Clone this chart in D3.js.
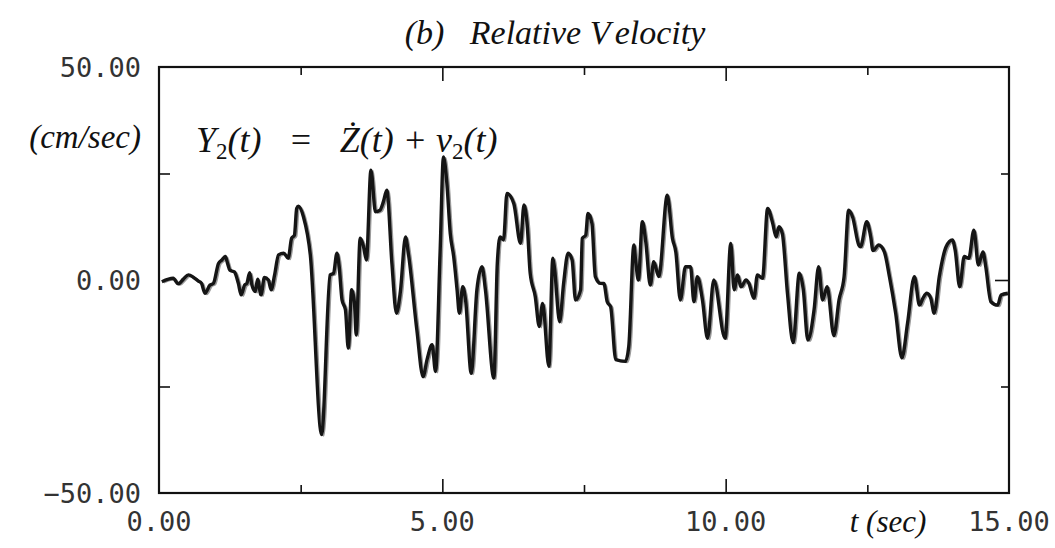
<!DOCTYPE html>
<html>
<head>
<meta charset="utf-8">
<script src="https://cdn.jsdelivr.net/npm/d3@7"></script>
<style>
  body { margin: 0; background: #fff; }
  .num { font-family: "DejaVu Sans Mono", monospace; font-size: 27px; fill: #333; }
  .mth { font-family: "Liberation Serif", "DejaVu Serif", serif; font-style: italic; fill: #111; white-space: pre; }
</style>
</head>
<body>
<div id="chart"></div>
<script>
const width = 1055, height = 548;

// time (sec) of the traced points
const times = [
  0.05, 0.25, 0.34, 0.43, 0.52, 0.61, 0.69, 0.75, 0.81, 0.90, 0.96, 1.05, 1.11, 1.17, 1.21, 1.25,
  1.33, 1.40, 1.45, 1.51, 1.55, 1.60, 1.64, 1.70, 1.74, 1.80, 1.86, 1.93, 1.98, 2.04, 2.11, 2.20,
  2.28, 2.34, 2.39, 2.43, 2.46, 2.55, 2.67, 2.87, 3.02, 3.08, 3.14, 3.18, 3.23, 3.29, 3.34, 3.40,
  3.45, 3.48, 3.55, 3.61, 3.66, 3.74, 3.82, 3.90, 3.96, 4.02, 4.11, 4.19, 4.26, 4.35, 4.40, 4.55,
  4.66, 4.73, 4.82, 4.88, 4.96, 5.02, 5.08, 5.14, 5.20, 5.26, 5.30, 5.36, 5.41, 5.51, 5.61, 5.70,
  5.76, 5.91, 5.97, 6.02, 6.08, 6.14, 6.26, 6.38, 6.44, 6.50, 6.55, 6.64, 6.71, 6.77, 6.88, 6.95,
  6.98, 7.07, 7.14, 7.22, 7.29, 7.35, 7.44, 7.47, 7.53, 7.57, 7.64, 7.70, 7.79, 7.85, 7.91, 7.97,
  8.06, 8.23, 8.29, 8.38, 8.41, 8.46, 8.53, 8.59, 8.67, 8.73, 8.82, 8.97, 9.06, 9.12, 9.20, 9.29,
  9.38, 9.44, 9.50, 9.59, 9.68, 9.79, 9.99, 10.09, 10.15, 10.21, 10.27, 10.36, 10.41, 10.50, 10.56, 10.65,
  10.74, 10.83, 10.89, 10.94, 11.00, 11.09, 11.19, 11.30, 11.37, 11.45, 11.56, 11.64, 11.71, 11.79, 11.91, 12.00,
  12.09, 12.17, 12.24, 12.35, 12.38, 12.49, 12.56, 12.60, 12.70, 12.80, 12.89, 13.00, 13.11, 13.21, 13.33, 13.42,
  13.48, 13.55, 13.62, 13.68, 13.77, 13.89, 14.00, 14.05, 14.13, 14.21, 14.29, 14.38, 14.46, 14.54, 14.59, 14.68,
  14.80, 14.86, 14.98
];

// relative velocity Y2(t) (cm/sec)
const velocity = [
  -0.4, 0.4, -0.9, 0.2, 1.2, 0.6, -0.2, -0.8, -3.1, -1.2, -0.8, 3.9, 4.7, 5.5, 3.9, 2.3,
  1.9, -0.8, -3.5, -1.2, -0.8, 1.7, -1.2, -2.7, 0.2, -3.5, 0.6, 0.0, -2.3, 1.2, 5.9, 6.3,
  5.1, 9.8, 10.5, 16.8, 17.3, 14.8, 5.9, -36.3, 1.2, 1.6, 6.3, 3.1, -4.7, -7.0, -16.0, -2.3,
  -5.5, -12.9, 9.8, 7.8, 4.7, 25.8, 16.0, 16.4, 18.4, 21.1, 3.9, -7.8, -2.7, 10.1, 6.3, -11.7,
  -22.7, -18.7, -15.2, -21.5, 6.3, 28.9, 22.7, 10.9, 5.5, -2.3, -7.8, -1.6, -4.7, -21.9, -2.3, 3.1,
  -2.3, -23.0, 3.9, 10.1, 9.4, 20.3, 18.0, 8.6, 17.6, 12.5, 1.6, -3.9, -10.9, -5.5, -20.3, 5.1,
  2.7, -9.8, -0.8, 6.3, 4.7, -4.7, -2.3, 9.8, 10.5, 15.6, 13.3, 0.8, -0.8, -0.8, -5.1, -6.3,
  -18.7, -19.1, -15.6, 8.2, 4.7, 0.0, 13.7, 9.0, -1.2, 4.3, 0.8, 19.9, 9.8, 6.6, -4.7, 3.1,
  3.1, -5.1, 0.8, -4.7, -13.7, 0.0, -13.7, 8.6, -2.3, 1.2, -1.6, 0.0, -0.8, -4.3, 1.2, 0.4,
  16.8, 13.3, 10.1, 12.5, 10.9, -3.1, -14.7, 1.6, -2.3, -14.1, -7.0, 3.1, -4.7, -1.6, -13.1, -4.7,
  0.8, 16.4, 14.8, 8.2, 7.8, 13.7, 10.1, 6.9, 8.2, 6.6, 0.8, -7.8, -18.3, -10.1, 0.8, -5.9,
  -4.3, -3.1, -4.3, -7.8, 0.8, 7.8, 9.4, 7.0, -1.6, 5.5, 5.1, 11.7, 3.5, 6.6, 3.1, -5.1,
  -5.9, -3.5, -3.1
];

const xTicks = [0, 5, 10, 15];
const xMinorTicks = [2.5, 7.5, 12.5];
const yTicks = [-50, 0, 50];
const yMinorTicks = [-25, 25];

const data = times.map((t, i) => ({t: t, v: velocity[i]}));

const margin = {left: 159, right: 46, top: 67, bottom: 55};

const x = d3.scaleLinear().domain([0, 15]).range([margin.left, width - margin.right]);
const y = d3.scaleLinear().domain([-50, 50]).range([height - margin.bottom, margin.top]);

const svg = d3.select("#chart")
    .append("svg")
    .attr("width", width)
    .attr("height", height);

// thin grey trace (the second, nearly coincident curve)
const line = d3.line().x(d => x(d.t)).y(d => y(d.v)).curve(d3.curveMonotoneX);
svg.append("path")
    .datum(data)
    .attr("fill", "none")
    .attr("stroke", "#9a9a9a")
    .attr("stroke-width", 2)
    .attr("transform", "translate(2,1)")
    .attr("d", line);

svg.append("path")
    .datum(data)
    .attr("fill", "none")
    .attr("stroke", "#151515")
    .attr("stroke-width", 3.4)
    .attr("stroke-linejoin", "round")
    .attr("d", line);

// frame
svg.append("rect")
    .attr("x", x(0)).attr("y", y(50))
    .attr("width", x(15) - x(0)).attr("height", y(-50) - y(50))
    .attr("fill", "none")
    .attr("stroke", "#111")
    .attr("stroke-width", 2.2);

// inward ticks via axes
svg.append("g").attr("transform", `translate(0,${y(-50)})`)
    .call(d3.axisTop(x).tickValues([5, 10]).tickSize(14).tickFormat(""));
svg.append("g").attr("transform", `translate(0,${y(-50)})`)
    .call(d3.axisTop(x).tickValues(xMinorTicks).tickSize(8).tickFormat(""));
svg.append("g").attr("transform", `translate(0,${y(50)})`)
    .call(d3.axisBottom(x).tickValues([5, 10]).tickSize(14).tickFormat(""));
svg.append("g").attr("transform", `translate(0,${y(50)})`)
    .call(d3.axisBottom(x).tickValues(xMinorTicks).tickSize(8).tickFormat(""));
svg.append("g").attr("transform", `translate(${x(0)},0)`)
    .call(d3.axisRight(y).tickValues(yMinorTicks).tickSize(11).tickFormat(""));
svg.append("g").attr("transform", `translate(${x(15)},0)`)
    .call(d3.axisLeft(y).tickValues(yMinorTicks).tickSize(8).tickFormat(""));
svg.append("g").attr("transform", `translate(${x(15)},0)`)
    .call(d3.axisLeft(y).tickValues([0]).tickSize(14).tickFormat(""));
svg.selectAll(".domain").remove();
svg.selectAll(".tick line").attr("stroke", "#111").attr("stroke-width", 1.6);

// tick labels
svg.selectAll(".ylab")
    .data(yTicks)
    .join("text")
    .attr("class", "num")
    .attr("x", 141)
    .attr("y", d => y(d) + 10)
    .attr("text-anchor", "end")
    .text(d => d3.format(".2f")(d));

svg.selectAll(".xlab")
    .data(xTicks)
    .join("text")
    .attr("class", "num")
    .attr("x", d => x(d))
    .attr("y", 531)
    .attr("text-anchor", "middle")
    .text(d => d3.format(".2f")(d));

// units
svg.append("text").attr("class", "mth")
    .attr("x", 141).attr("y", 148).attr("text-anchor", "end")
    .attr("font-size", 33)
    .text("(cm/sec)");

svg.append("text").attr("class", "mth")
    .attr("x", 888).attr("y", 532).attr("text-anchor", "middle")
    .attr("font-size", 31)
    .text("t (sec)");

// title
const title = svg.append("text").attr("class", "mth")
    .attr("x", 555).attr("y", 44).attr("text-anchor", "middle")
    .attr("font-size", 34);
title.append("tspan").text("(b)   Relative V");
title.append("tspan").attr("dx", 8).text("elocity");

// formula
const f = svg.append("text").attr("class", "mth")
    .attr("x", 196).attr("y", 152)
    .attr("font-size", 36);
f.append("tspan").text("Y");
f.append("tspan").attr("font-size", 23).attr("dy", 7).attr("font-style", "normal").text("2");
f.append("tspan").attr("dy", -7).text("(t)   =   Ż(t) + v");
f.append("tspan").attr("font-size", 23).attr("dy", 7).attr("font-style", "normal").text("2");
f.append("tspan").attr("dy", -7).text("(t)");
</script>
</body>
</html>
